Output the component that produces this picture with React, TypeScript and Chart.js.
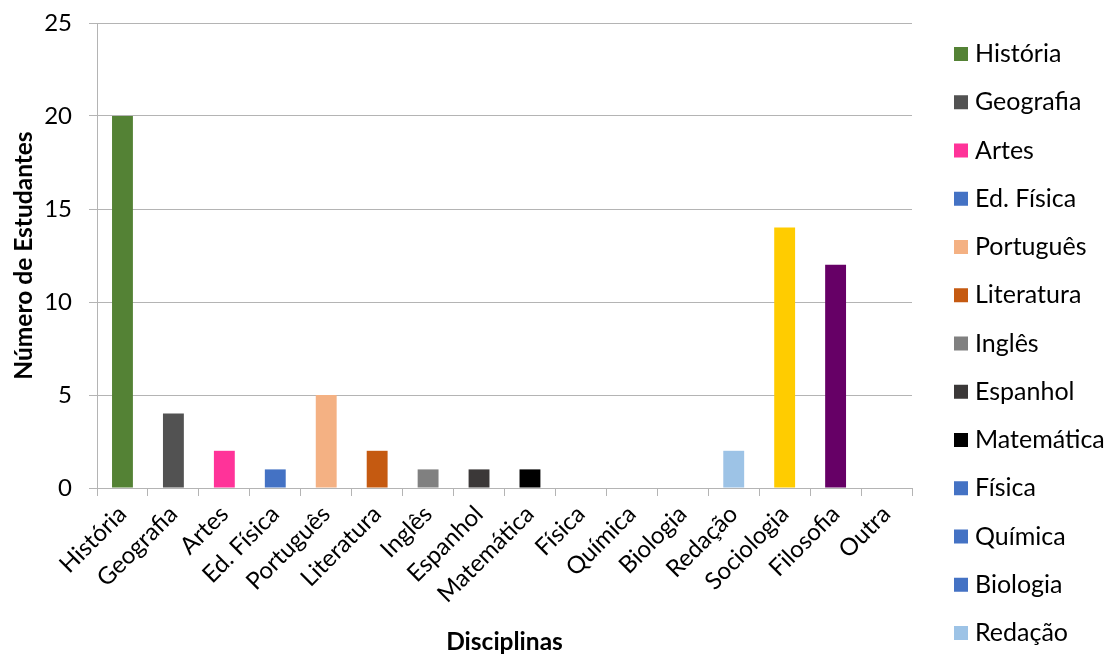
import React, { useEffect, useRef } from "react";
import { Chart, registerables } from "chart.js";

Chart.register(...registerables);

const categories = [
  "História",
  "Geografia",
  "Artes",
  "Ed. Física",
  "Português",
  "Literatura",
  "Inglês",
  "Espanhol",
  "Matemática",
  "Física",
  "Química",
  "Biologia",
  "Redação",
  "Sociologia",
  "Filosofia",
  "Outra",
];

const studentCounts = [20, 4, 2, 1, 5, 2, 1, 1, 1, 0, 0, 0, 2, 14, 12, 0];

const barColors = [
  "#548235",
  "#525252",
  "#FF3399",
  "#4472C4",
  "#F4B183",
  "#C55A11",
  "#808080",
  "#3B3838",
  "#000000",
  "#4472C4",
  "#4472C4",
  "#4472C4",
  "#9DC3E6",
  "#FFCC00",
  "#660066",
  "#4472C4",
];

const yTickValues = [0, 5, 10, 15, 20, 25];
const xAxisTitle = "Disciplinas";
const yAxisTitle = "Número de Estudantes";

const FONT = "Lato, 'Open Sans', sans-serif";
const GRID = "#b4b4b4";

const sideLegend = {
  id: "sideLegend",
  afterDraw(chart: any) {
    const ctx = chart.ctx;
    const area = chart.chartArea;
    const x0 = area.right + 42;
    const y0 = area.top + 31;
    const step = 48.25;
    ctx.save();
    ctx.font = `25px ${FONT}`;
    ctx.textBaseline = "middle";
    ctx.textAlign = "left";
    categories.forEach((name, i) => {
      const y = y0 + i * step;
      if (y + 9 > chart.height) return;
      ctx.fillStyle = barColors[i];
      ctx.fillRect(x0, y - 7, 14, 14);
      ctx.fillStyle = "#000";
      ctx.fillText(name, x0 + 21, y);
    });
    ctx.restore();
  },
};

export default function App() {
  const canvasRef = useRef<HTMLCanvasElement | null>(null);

  useEffect(() => {
    const canvas = canvasRef.current;
    if (!canvas) return;
    const chart = new Chart(canvas, {
      type: "bar",
      data: {
        labels: categories,
        datasets: [
          {
            label: yAxisTitle,
            data: studentCounts,
            backgroundColor: barColors,
            borderWidth: 0,
            barPercentage: 0.41,
            categoryPercentage: 1,
          },
        ],
      },
      options: {
        animation: false,
        responsive: false,
        maintainAspectRatio: false,
        layout: { padding: { top: 23, right: 196, left: 0, bottom: 0 } },
        plugins: {
          legend: { display: false },
          tooltip: { enabled: false },
        },
        scales: {
          x: {
            afterFit: (scale: any) => {
              scale.height = 169;
              scale.paddingLeft = 0;
              scale.paddingRight = 0;
            },
            grid: {
              display: true,
              drawOnChartArea: false,
              drawTicks: true,
              tickLength: 8,
              color: GRID,
              offset: true,
            },
            border: { display: true, color: GRID, width: 1 },
            ticks: {
              autoSkip: false,
              minRotation: 45,
              maxRotation: 45,
              padding: 4,
              color: "#000",
              font: { family: FONT, size: 24 },
            },
            title: {
              display: true,
              text: xAxisTitle,
              color: "#000",
              font: { family: FONT, size: 24.5, weight: "bold" },
              padding: { top: 0, bottom: 0 },
            },
          },
          y: {
            min: 0,
            max: 25,
            afterFit: (scale: any) => {
              scale.width = 97;
              scale.paddingTop = 0;
              scale.paddingBottom = 0;
            },
            afterBuildTicks: (scale: any) => {
              scale.ticks = yTickValues.map((v) => ({ value: v }));
            },
            grid: {
              color: GRID,
              tickLength: 8,
              drawTicks: true,
            },
            border: { display: true, color: GRID, width: 1 },
            ticks: {
              padding: 17,
              color: "#000",
              font: { family: FONT, size: 24 },
            },
            title: {
              display: true,
              text: yAxisTitle,
              color: "#000",
              font: { family: FONT, size: 24.5, weight: "bold" },
              padding: { top: 9, bottom: 0 },
            },
          },
        },
      },
      plugins: [sideLegend],
    });
    return () => chart.destroy();
  }, []);

  return (
    <div style={{ position: "absolute", left: 0, top: 0, width: 1108, height: 657 }}>
      <canvas ref={canvasRef} width={1108} height={657} />
    </div>
  );
}
